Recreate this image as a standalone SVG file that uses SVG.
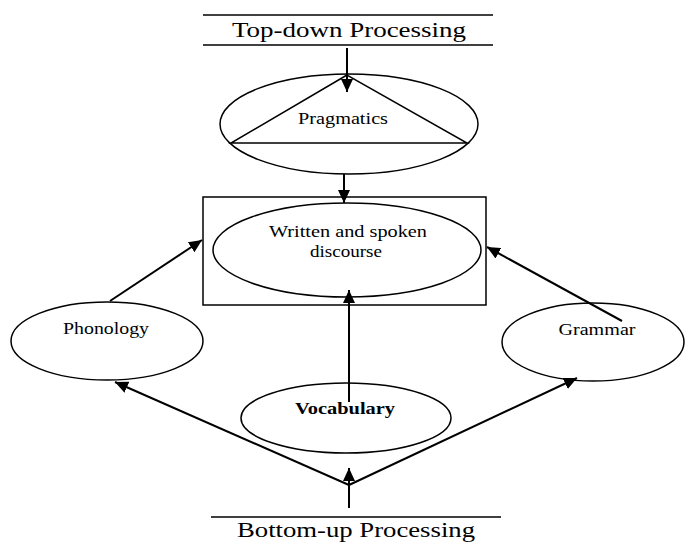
<svg xmlns="http://www.w3.org/2000/svg" width="685" height="543" viewBox="0 0 685 543">
<style>
.shape{fill:none;stroke:#000;stroke-width:1.5}
.conn{fill:none;stroke:#000;stroke-width:2}
.lbl{font-family:"Liberation Serif","Times New Roman",serif;fill:#000;text-anchor:middle}
.title{font-size:21px}
.node{font-size:16px}
.bold{font-weight:bold}
</style>
<defs>
<marker id="arr" markerUnits="userSpaceOnUse" markerWidth="14" markerHeight="12" refX="13" refY="6" orient="auto">
<path d="M0,0 L13,6 L0,12 Z" fill="#000"/>
</marker>
</defs>
<rect width="685" height="543" fill="#fff"/>
<g id="top-down">
<line x1="203" y1="15" x2="493" y2="15" class="shape"/>
<line x1="203" y1="45" x2="493" y2="45" class="shape"/>
<text x="349" y="37" class="lbl title" textLength="234" lengthAdjust="spacingAndGlyphs">Top-down Processing</text>
</g>
<g id="pragmatics">
<ellipse cx="349" cy="124" rx="129" ry="50" class="shape"/>
<polygon points="347,75 231,143 467,143" class="shape"/>
<text x="343" y="124" class="lbl node" textLength="90" lengthAdjust="spacingAndGlyphs">Pragmatics</text>
</g>
<g id="discourse">
<rect x="203" y="197" width="283" height="108" class="shape"/>
<ellipse cx="347" cy="250" rx="134" ry="47" class="shape"/>
<text x="348" y="237" class="lbl node" textLength="158" lengthAdjust="spacingAndGlyphs">Written and spoken</text>
<text x="346" y="257" class="lbl node" textLength="72" lengthAdjust="spacingAndGlyphs">discourse</text>
</g>
<g id="phonology">
<ellipse cx="107" cy="341" rx="96" ry="39" class="shape"/>
<text x="106" y="334" class="lbl node" textLength="86" lengthAdjust="spacingAndGlyphs">Phonology</text>
</g>
<g id="grammar">
<ellipse cx="593" cy="342" rx="91" ry="39" class="shape"/>
<text x="597" y="335" class="lbl node" textLength="77" lengthAdjust="spacingAndGlyphs">Grammar</text>
</g>
<g id="vocabulary">
<ellipse cx="346" cy="418" rx="105" ry="35" class="shape"/>
<text x="345" y="414" class="lbl node bold" textLength="100" lengthAdjust="spacingAndGlyphs">Vocabulary</text>
</g>
<g id="bottom-up">
<line x1="211" y1="517" x2="501" y2="517" class="shape"/>
<text x="356" y="537" class="lbl title" textLength="238" lengthAdjust="spacingAndGlyphs">Bottom-up Processing</text>
</g>
<g id="connectors">
<line x1="347" y1="48" x2="347" y2="92" class="conn" marker-end="url(#arr)"/>
<line x1="344" y1="174" x2="344" y2="203" class="conn" marker-end="url(#arr)"/>
<line x1="349" y1="402" x2="349" y2="290" class="conn" marker-end="url(#arr)"/>
<line x1="110" y1="301" x2="202" y2="240" class="conn" marker-end="url(#arr)"/>
<line x1="622" y1="321" x2="487" y2="247" class="conn" marker-end="url(#arr)"/>
<line x1="349" y1="508" x2="349" y2="468" class="conn" marker-end="url(#arr)"/>
<line x1="349" y1="485" x2="115" y2="382" class="conn" marker-end="url(#arr)"/>
<line x1="349" y1="485" x2="577" y2="378" class="conn" marker-end="url(#arr)"/>
</g>
</svg>
